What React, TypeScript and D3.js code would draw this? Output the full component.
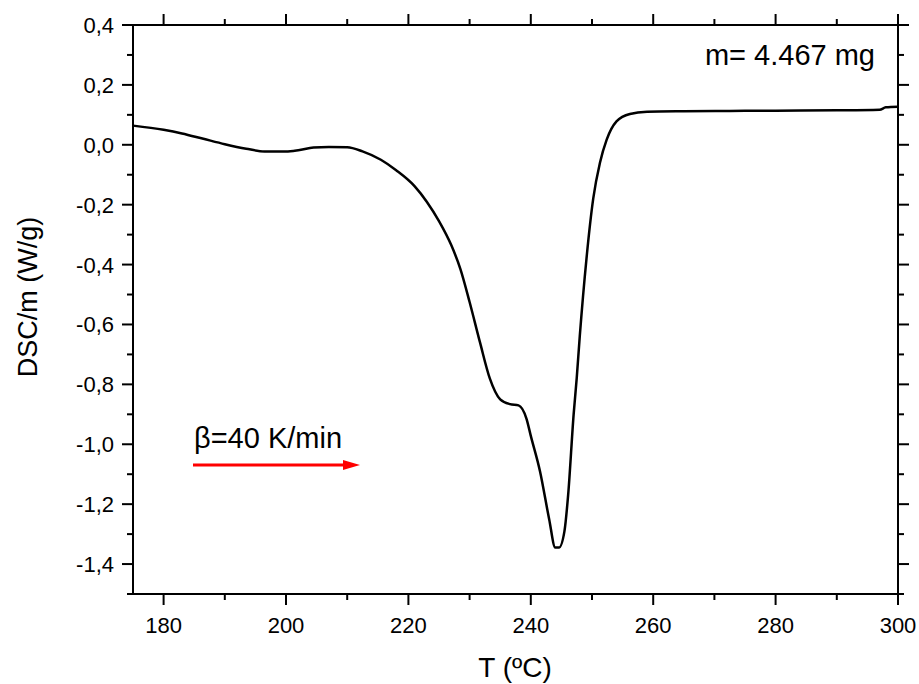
import React from "react";
import * as d3 from "d3";

const temps = [175, 180, 183, 186.5, 190, 193.5, 196.5, 200, 202, 204.5, 207, 210, 212.5, 215.5, 218, 221, 223, 225, 227, 228.5, 230, 231.7, 233.3, 235, 236.6, 238, 239.3, 240, 241.5, 243, 244, 244.6, 245.5, 246.1, 247, 247.5, 248, 249.1, 250.2, 251.3, 252.4, 254, 256.2, 259, 265, 272.5, 280, 290, 297, 298, 300];
const dsc = [0.064, 0.05, 0.038, 0.02, 0.002, -0.013, -0.022, -0.022, -0.018, -0.009, -0.007, -0.008, -0.022, -0.05, -0.085, -0.138, -0.19, -0.255, -0.335, -0.415, -0.525, -0.66, -0.78, -0.85, -0.866, -0.87, -0.915, -0.972, -1.09, -1.25, -1.345, -1.345, -1.29, -1.17, -0.9, -0.78, -0.64, -0.38, -0.18, -0.06, 0.017, 0.078, 0.103, 0.11, 0.112, 0.113, 0.114, 0.115, 0.117, 0.125, 0.127];

const xMajor = [180, 200, 220, 240, 260, 280, 300];
const xMinor = [190, 210, 230, 250, 270, 290];
const yMajor = [0.4, 0.2, 0.0, -0.2, -0.4, -0.6, -0.8, -1.0, -1.2, -1.4];
const yMinor = [0.3, 0.1, -0.1, -0.3, -0.5, -0.7, -0.9, -1.1, -1.3, -1.5];

const xTitle = "T (ºC)";
const yTitle = "DSC/m (W/g)";
const massLabel = "m= 4.467 mg";
const rateLabel = "β=40 K/min";

const W = 919, H = 684;
const L = 133, R = 898, T = 25, B = 594;
const FONT = "'Liberation Sans', Arial, sans-serif";

export default function App() {
  const x = d3.scaleLinear().domain([175, 300]).range([L, R]);
  const y = d3.scaleLinear().domain([-1.5, 0.4]).range([B, T]);
  const pts = temps.map((t, i) => [t, dsc[i]] as [number, number]);
  const line = d3.line<[number, number]>().x(d => x(d[0])).y(d => y(d[1])).curve(d3.curveMonotoneX);
  const fmt = (v: number) => v.toFixed(1).replace(".", ",").replace("-0,0", "0,0");
  const MAJ = 11, MIN = 6;
  return (
    <svg width={W} height={H} style={{ position: "absolute", left: 0, top: 0 }} fontFamily={FONT}>
      <rect width={W} height={H} fill="#fff" />
      <path d={line(pts) || ""} fill="none" stroke="#000" strokeWidth={2.5} strokeLinejoin="round" />
      <rect x={L} y={T} width={R - L} height={B - T} fill="none" stroke="#000" strokeWidth={2} />
      {xMajor.map(v => (
        <g key={"xm" + v}>
          <line x1={x(v)} x2={x(v)} y1={B} y2={B + MAJ} stroke="#000" strokeWidth={2} />
          <line x1={x(v)} x2={x(v)} y1={T} y2={T - MAJ} stroke="#000" strokeWidth={2} />
          <text x={x(v)} y={633} textAnchor="middle" fontSize={22}>{v}</text>
        </g>
      ))}
      {xMinor.map(v => (
        <g key={"xn" + v}>
          <line x1={x(v)} x2={x(v)} y1={B} y2={B + MIN} stroke="#000" strokeWidth={2} />
          <line x1={x(v)} x2={x(v)} y1={T} y2={T - MIN} stroke="#000" strokeWidth={2} />
        </g>
      ))}
      {yMajor.map(v => (
        <g key={"ym" + v}>
          <line x1={L} x2={L - MAJ} y1={y(v)} y2={y(v)} stroke="#000" strokeWidth={2} />
          <line x1={R} x2={R + MAJ} y1={y(v)} y2={y(v)} stroke="#000" strokeWidth={2} />
          <text x={114} y={y(v) + 8} textAnchor="end" fontSize={22}>{fmt(v)}</text>
        </g>
      ))}
      {yMinor.map(v => (
        <g key={"yn" + v}>
          <line x1={L} x2={L - MIN} y1={y(v)} y2={y(v)} stroke="#000" strokeWidth={2} />
          <line x1={R} x2={R + MIN} y1={y(v)} y2={y(v)} stroke="#000" strokeWidth={2} />
        </g>
      ))}
      <text x={515} y={677} textAnchor="middle" fontSize={28}>{xTitle}</text>
      <text transform="translate(37,297) rotate(-90)" textAnchor="middle" fontSize={27}>{yTitle}</text>
      <text x={875} y={65} textAnchor="end" fontSize={29}>{massLabel}</text>
      <text x={194} y={448} fontSize={29}>{rateLabel}</text>
      <line x1={193} x2={346} y1={465} y2={465} stroke="#ff0000" strokeWidth={3} />
      <path d="M343,460 L360,465 L343,470 Z" fill="#ff0000" />
    </svg>
  );
}
